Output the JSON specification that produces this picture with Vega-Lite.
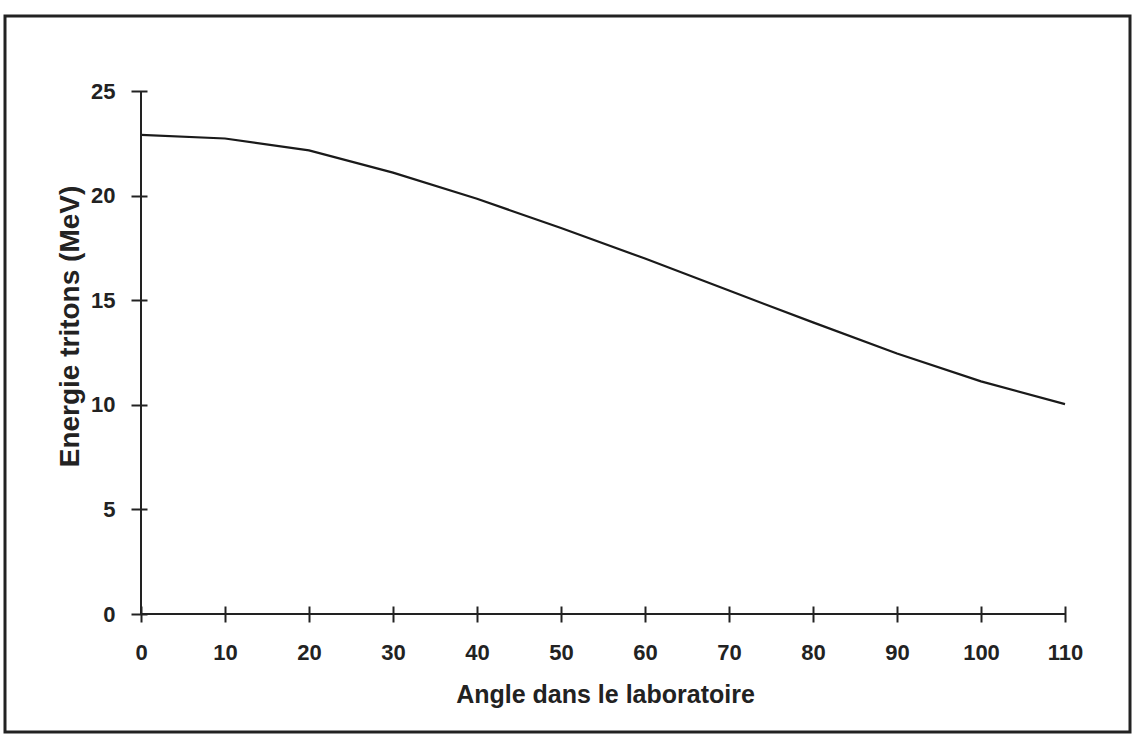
{
  "$schema": "https://vega.github.io/schema/vega-lite/v6.json",
  "width": 1125,
  "height": 716,
  "autosize": {"type": "none"},
  "padding": {"left": 5, "top": 16, "right": 5, "bottom": 13},
  "background": "white",
  "config": {
    "view": {"stroke": "#222222", "strokeWidth": 3},
    "font": "Liberation Sans"
  },
  "layer": [
    {
      "data": {"values": [
        {"angle": 0, "energie": 22.9},
        {"angle": 10, "energie": 22.73},
        {"angle": 20, "energie": 22.16},
        {"angle": 30, "energie": 21.1},
        {"angle": 40, "energie": 19.85},
        {"angle": 50, "energie": 18.45},
        {"angle": 60, "energie": 16.99},
        {"angle": 70, "energie": 15.46},
        {"angle": 80, "energie": 13.94},
        {"angle": 90, "energie": 12.45},
        {"angle": 100, "energie": 11.12},
        {"angle": 110, "energie": 10.03}
      ]},
      "mark": {"type": "line", "color": "#1a1a1a", "strokeWidth": 2.2, "interpolate": "linear"},
      "encoding": {
        "x": {
          "field": "angle", "type": "quantitative",
          "scale": {"domain": [0, 110], "range": [136, 1060], "nice": false, "zero": false},
          "axis": {
            "title": "Angle dans le laboratoire",
            "values": [0, 10, 20, 30, 40, 50, 60, 70, 80, 90, 100, 110],
            "grid": false, "domain": false,
            "offset": -126, "tickSize": 16, "tickColor": "#222222", "tickWidth": 2,
            "labelFontSize": 22, "labelFontWeight": "bold", "labelColor": "#222222", "labelPadding": 20,
            "labelFlush": false, "labelOverlap": false,
            "titleFontSize": 25, "titleFontWeight": "bold", "titleColor": "#222222",
            "titleX": 600, "titleY": 88, "titleBaseline": "middle", "titleAlign": "center"
          }
        },
        "y": {
          "field": "energie", "type": "quantitative",
          "scale": {"domain": [0, 25], "range": [598, 75], "nice": false, "zero": false},
          "axis": {
            "title": "Energie tritons (MeV)",
            "values": [0, 5, 10, 15, 20, 25],
            "grid": false, "domain": false,
            "offset": -142, "tickSize": 16, "tickColor": "#222222", "tickWidth": 2,
            "labelFontSize": 22, "labelFontWeight": "bold", "labelColor": "#222222", "labelPadding": 16,
            "labelFlush": false, "labelOverlap": false,
            "titleFontSize": 28, "titleFontWeight": "bold", "titleColor": "#222222",
            "titleX": -77, "titleY": 310, "titleBaseline": "middle", "titleAlign": "center", "titleAngle": -90
          }
        }
      }
    },
    {
      "data": {"values": [{"x0": 0, "x1": 110, "y0": 0}]},
      "mark": {"type": "rule", "color": "#222222", "strokeWidth": 2},
      "encoding": {
        "x": {"field": "x0", "type": "quantitative"},
        "x2": {"field": "x1"},
        "y": {"field": "y0", "type": "quantitative"}
      }
    },
    {
      "data": {"values": [{"x0": 0, "y0": 0, "y1": 25}]},
      "mark": {"type": "rule", "color": "#222222", "strokeWidth": 2},
      "encoding": {
        "x": {"field": "x0", "type": "quantitative"},
        "y": {"field": "y0", "type": "quantitative"},
        "y2": {"field": "y1"}
      }
    }
  ]
}
